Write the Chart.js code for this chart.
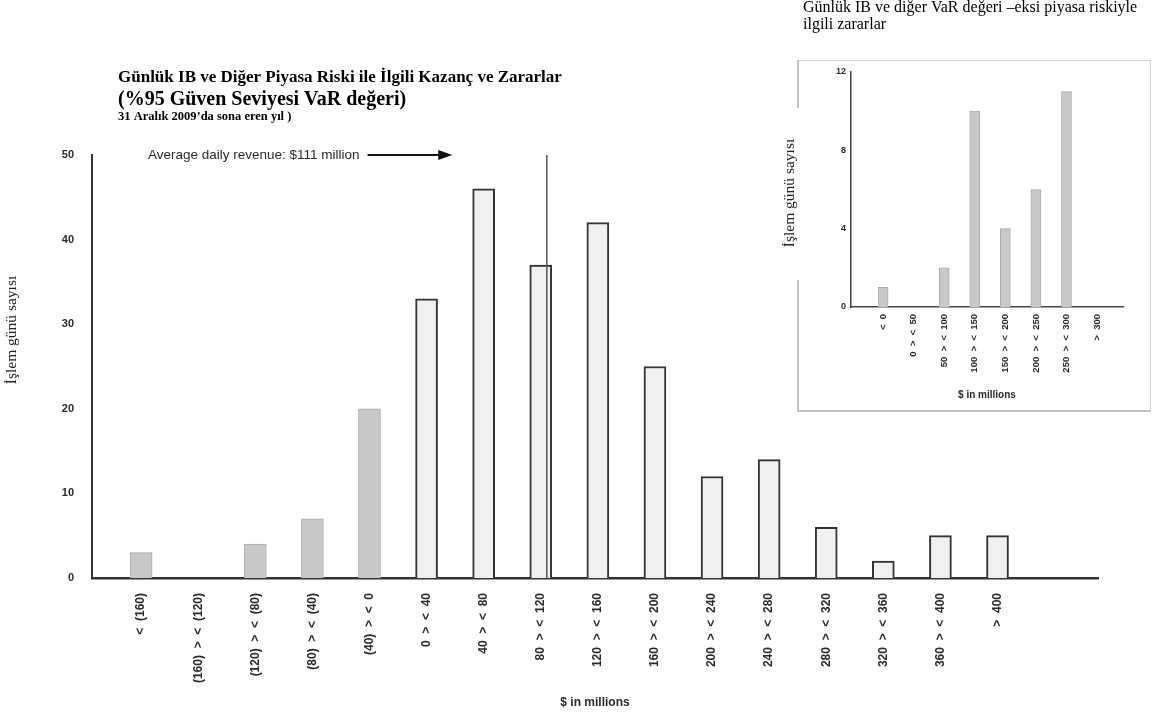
<!DOCTYPE html>
<html lang="tr">
<head>
<meta charset="utf-8">
<title>Günlük IB ve Diğer Piyasa Riski ile İlgili Kazanç ve Zararlar</title>
<script src="https://cdn.jsdelivr.net/npm/chart.js@4.4.1/dist/chart.umd.min.js"></script>
<style>
  html, body { margin: 0; padding: 0; background: #fff; }
  #wrap { position: relative; width: 1152px; height: 720px; overflow: hidden; background: #fff; }
  #main { position: absolute; left: 0; top: 0; }
  #inset { position: absolute; left: 770px; top: 55px; }
</style>
</head>
<body>
<div id="wrap">
  <canvas id="main" width="1152" height="720"></canvas>
  <canvas id="inset" width="382" height="360"></canvas>
</div>
<script>
// Daily IB & other market-risk revenue histogram, year ended 31 Dec 2009 ($ millions)
const binLabels = [
  '<  (160)', '(160)  >  <  (120)', '(120)  >  <  (80)', '(80)  >  <  (40)',
  '(40)  >  <  0', '0  >  <  40', '40  >  <  80', '80  >  <  120',
  '120  >  <  160', '160  >  <  200', '200  >  <  240', '240  >  <  280',
  '280  >  <  320', '320  >  <  360', '360  >  <  400', '>  400'
];
const tradingDays = [3, 0, 4, 7, 20, 33, 46, 37, 42, 25, 12, 14, 6, 2, 5, 5];
const lossBinCount = 5;            // first bins are loss days (shaded grey)
const dayTicks = [0, 10, 20, 30, 40, 50];

// Average daily revenue marker: $111m falls in the 80-120 bin
const avgRevenue = 111;
const avgBin = 7;
const avgBinLow = 80;
const avgBinHigh = 120;

// Inset: losses in excess of VaR
const varLabels = ['<  0', '0  >  <  50', '50  >  <  100', '100  >  <  150',
                   '150  >  <  200', '200  >  <  250', '250  >  <  300', '>  300'];
const varDays = [1, 0, 2, 10, 4, 6, 11, 0];
const varTicks = [0, 4, 8, 12];

const INK = '#2a2a2a';
const LOSS_FILL = '#c9c9c9';
const LOSS_EDGE = '#ababab';
const GAIN_FILL = '#f0f0f0';
const GAIN_EDGE = '#333333';
const SANS = '"Liberation Sans", Arial, sans-serif';
const SERIF = '"Liberation Serif", "Times New Roman", serif';

Chart.defaults.animation = false;

// ---------- main histogram ----------
const mainText = {
  id: 'mainText',
  afterDatasetsDraw(chart) {
    const { ctx, scales: { x, y } } = chart;
    const topY = y.getPixelForValue(50);
    const baseY = y.getPixelForValue(0);
    ctx.save();

    // vertical marker at the average daily revenue, inside its bin's bar
    const bw = chart.getDatasetMeta(0).data[avgBin].width;
    const frac = (avgRevenue - avgBinLow) / (avgBinHigh - avgBinLow);
    const mx = x.getPixelForValue(avgBin) + (frac - 0.5) * bw;
    ctx.strokeStyle = '#555';
    ctx.lineWidth = 1.5;
    ctx.beginPath();
    ctx.moveTo(mx, topY);
    ctx.lineTo(mx, baseY);
    ctx.stroke();

    // label + arrow
    const label = 'Average daily revenue: $111 million';
    ctx.font = '13.5px ' + SANS;
    ctx.fillStyle = INK;
    ctx.textBaseline = 'middle';
    ctx.textAlign = 'left';
    const tx = x.getPixelForValue(0.12);
    ctx.fillText(label, tx, topY);
    const ax0 = tx + ctx.measureText(label).width + 8;
    const ax1 = x.getPixelForValue(5.45);
    ctx.strokeStyle = '#111';
    ctx.lineWidth = 2;
    ctx.beginPath();
    ctx.moveTo(ax0, topY);
    ctx.lineTo(ax1 - 10, topY);
    ctx.stroke();
    ctx.fillStyle = '#111';
    ctx.beginPath();
    ctx.moveTo(ax1, topY);
    ctx.lineTo(ax1 - 14, topY - 5);
    ctx.lineTo(ax1 - 14, topY + 5);
    ctx.closePath();
    ctx.fill();
    ctx.restore();
  },
  afterDraw(chart) {
    const { ctx } = chart;
    ctx.save();
    ctx.fillStyle = '#000';
    ctx.textAlign = 'left';
    ctx.textBaseline = 'middle';
    ctx.font = 'bold 17px ' + SERIF;
    ctx.fillText('Günlük IB ve Diğer Piyasa Riski ile İlgili Kazanç ve Zararlar', 118, 78);
    ctx.font = 'bold 20px ' + SERIF;
    ctx.fillText('(%95 Güven Seviyesi VaR değeri)', 118, 100);
    ctx.font = 'bold 12.5px ' + SERIF;
    ctx.fillText('31 Aralık 2009’da sona eren yıl )', 118, 117);

    // heading of the inset panel
    ctx.font = '16px ' + SERIF;
    ctx.fillText('Günlük IB ve diğer VaR değeri –eksi piyasa riskiyle', 803, 8);
    ctx.fillText('ilgili zararlar', 803, 25);

    // y-axis title
    ctx.translate(12, 330);
    ctx.rotate(-Math.PI / 2);
    ctx.textAlign = 'center';
    ctx.font = '15.5px ' + SERIF;
    ctx.fillStyle = '#222';
    ctx.fillText('İşlem günü sayısı', 0, 0);
    ctx.restore();
  }
};

new Chart(document.getElementById('main'), {
  type: 'bar',
  data: {
    datasets: [{
      data: tradingDays.map((v, i) => ({ x: i, y: v })),
      backgroundColor: tradingDays.map((_, i) => i < lossBinCount ? LOSS_FILL : GAIN_FILL),
      borderColor: tradingDays.map((_, i) => i < lossBinCount ? LOSS_EDGE : GAIN_EDGE),
      borderWidth: tradingDays.map((_, i) => i < lossBinCount ? 1 : 2),
      barThickness: 22
    }]
  },
  options: {
    responsive: false,
    devicePixelRatio: 1,
    layout: { padding: { top: 155, right: 54, bottom: 0, left: 0 } },
    plugins: { legend: { display: false }, tooltip: { enabled: false } },
    scales: {
      x: {
        type: 'linear',
        offset: false,
        min: -0.86,
        max: 16.76,
        afterBuildTicks: s => { s.ticks = binLabels.map((_, i) => ({ value: i })); },
        afterFit: s => { s.height = 142; },
        grid: { display: false, drawTicks: false, offset: false },
        border: { display: true, color: '#333', width: 2.5 },
        ticks: {
          autoSkip: false,
          minRotation: 90,
          maxRotation: 90,
          padding: 15,
          color: INK,
          font: { family: SANS, weight: 'bold', size: 12 },
          callback: v => binLabels[v]
        },
        title: {
          display: true,
          text: '$ in millions',
          color: INK,
          font: { family: SANS, weight: 'bold', size: 12 },
          padding: { top: 0, bottom: 10 }
        }
      },
      y: {
        min: 0,
        max: 50,
        afterBuildTicks: s => { s.ticks = dayTicks.map(v => ({ value: v })); },
        afterFit: s => { s.width = 92; },
        grid: { display: false, drawTicks: false },
        border: { display: true, color: '#333', width: 2 },
        ticks: {
          padding: 18,
          color: INK,
          font: { family: SANS, weight: 'bold', size: 11 }
        }
      }
    }
  },
  plugins: [mainText]
});

// ---------- inset: losses beyond VaR ----------
const insetFrame = {
  id: 'insetFrame',
  beforeDraw(chart) {
    const { ctx } = chart;
    ctx.save();
    ctx.strokeStyle = '#d4d4d4';
    ctx.lineWidth = 1;
    ctx.strokeRect(27.5, 5.5, 353, 351);
    ctx.strokeStyle = '#c2c2c2';
    ctx.lineWidth = 2;
    ctx.beginPath();
    ctx.moveTo(28, 5);
    ctx.lineTo(28, 356);
    ctx.lineTo(381, 356);
    ctx.stroke();
    ctx.restore();
  },
  afterDraw(chart) {
    const { ctx } = chart;
    ctx.save();
    ctx.fillStyle = '#fff';
    ctx.fillRect(6, 53, 30, 172);
    ctx.translate(20, 138);
    ctx.rotate(-Math.PI / 2);
    ctx.fillStyle = '#222';
    ctx.textAlign = 'center';
    ctx.textBaseline = 'middle';
    ctx.font = '15.5px ' + SERIF;
    ctx.fillText('İşlem günü sayısı', 0, 0);
    ctx.restore();
  }
};

new Chart(document.getElementById('inset'), {
  type: 'bar',
  data: {
    datasets: [{
      data: varDays.map((v, i) => ({ x: i, y: v })),
      backgroundColor: LOSS_FILL,
      borderColor: LOSS_EDGE,
      borderWidth: 1,
      barThickness: 10
    }]
  },
  options: {
    responsive: false,
    devicePixelRatio: 1,
    layout: { padding: { top: 17, right: 29, bottom: 0, left: 0 } },
    plugins: { legend: { display: false }, tooltip: { enabled: false } },
    scales: {
      x: {
        type: 'linear',
        offset: false,
        min: -1.05,
        max: 7.85,
        afterBuildTicks: s => { s.ticks = varLabels.map((_, i) => ({ value: i })); },
        afterFit: s => { s.height = 108; },
        grid: { display: false, drawTicks: false, offset: false },
        border: { display: true, color: '#444', width: 1.5 },
        ticks: {
          autoSkip: false,
          minRotation: 90,
          maxRotation: 90,
          padding: 7,
          color: INK,
          font: { family: SANS, weight: 'bold', size: 9.5 },
          callback: v => varLabels[v]
        },
        title: {
          display: true,
          text: '$ in millions',
          color: INK,
          font: { family: SANS, weight: 'bold', size: 10 },
          padding: { top: 0, bottom: 14 }
        }
      },
      y: {
        min: 0,
        max: 12,
        afterBuildTicks: s => { s.ticks = varTicks.map(v => ({ value: v })); },
        afterFit: s => { s.width = 81; },
        grid: { display: false, drawTicks: false },
        border: { display: true, color: '#444', width: 1.5 },
        ticks: {
          padding: 5,
          color: INK,
          font: { family: SANS, weight: 'bold', size: 9 }
        }
      }
    }
  },
  plugins: [insetFrame]
});
</script>
</body>
</html>
